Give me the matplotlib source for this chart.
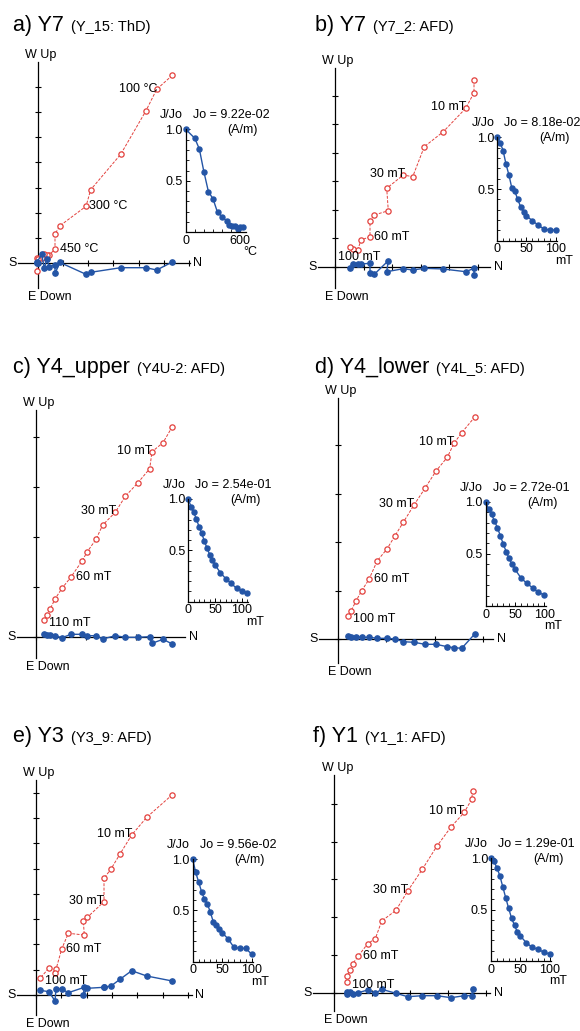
#!/usr/bin/env python
"""plot.py - six Zijderveld diagrams with demagnetisation insets"""
import matplotlib
matplotlib.use('Agg')
import matplotlib.pyplot as plt
from matplotlib.ticker import MultipleLocator

plt.rcParams['font.family'] = ['Liberation Sans', 'DejaVu Sans']

W, H = 580, 1031
RED = '#e3413d'
BLUE = '#2455a6'
FS = 9

# ---- Zijderveld data (components, arbitrary units) ----
a_north = [134.6, 119, 108.3, 83, 53, 48.3, 22.3, 17.3, 17.3, 11.6, 9, 6.6, 4, -1, 0.6, -1]
a_up = [188, 174, 152.6, 109, 73.6, 57, 37.6, 29.3, 14, 8.6, 8.6, 9.3, 5.6, 5.6, 4, -7.4]
a_west = [1.3, -6.7, -4.4, -4.4, -9, -11, 0.8, -10, -1.4, -3.4, 4, -5, 9, 0.6, 0, 1]

b_north = [139, 139, 130.7, 108.3, 89.3, 77.7, 68.3, 51.7, 53.3, 39.3, 35, 35, 26, 22.7, 18.3, 15]
b_up = [186.7, 174, 158.4, 135, 120, 90, 91.7, 78.4, 56, 51.7, 46, 30, 26.7, 16.7, 17.7, 20]
b_west = [-8.3, -1.6, -5, -2.3, -1.6, -3.3, -2, -5, 6, -7.6, -6.6, 3.4, 2.7, 2.7, 2.4, -1]

c_north = [136.6, 127.3, 116.3, 114, 102, 89.6, 79.6, 67, 60.3, 51.6, 46.3, 35.3, 26.3, 19.3, 14.3, 11.6, 8.6]
c_up = [210.6, 194.6, 185.6, 168.6, 154.3, 141, 125, 112.3, 98, 85.6, 76.3, 60.3, 49, 38.3, 28, 22.3, 17]
c_west = [-6.7, -2, -6, 0.6, 0, 0, 1.6, -1.7, 1.6, 1.6, 3, 3, -0.4, 1.6, 2.3, 2.3, 3]

d_north = [137.3, 124, 116.3, 109.6, 98.3, 87.3, 76.3, 65.6, 57.3, 49.3, 39.6, 31.3, 24, 18.3, 13.3, 10.6]
d_up = [222.6, 206.6, 196, 182, 168.3, 151, 134.3, 117, 103.6, 90.3, 78.6, 60, 48.6, 38.3, 28.3, 23.3]
d_west = [5.6, -9, -8.4, -7.4, -5, -5, -3, -2.4, 0.3, 1, 1, 2, 2, 2.6, 2.6, 3.6]

e_north = [136.3, 110.7, 95.7, 84, 75, 68, 68, 51.3, 47.3, 48.3, 32.3, 25.7, 20, 19, 13, 4]
e_up = [200.3, 177.7, 160, 141, 126, 116.7, 93.3, 77.7, 74, 60, 61.7, 46, 25.7, 22.3, 27, 16.7]
e_west = [14, 19, 24.3, 15.7, 9, 7.7, 7.7, 6.7, 0, 7.7, 2.3, 6, 6, -6, 3.3, 4.7]

f_north = [138.4, 137.4, 130, 116.7, 102.7, 88, 73.4, 61.7, 47.4, 41, 33.4, 24, 18.4, 16, 12.4, 12.4]
f_up = [202, 193.4, 180.4, 165.7, 146.7, 123.4, 101.7, 82.4, 71.7, 54, 49, 36.7, 29, 22.7, 16.7, 11]
f_west = [3.7, -3, -3, -5, -3, -3, -4, -0.6, 3.4, -0.6, 2.7, 0, -1.6, 1, 1, -1.6]

# ---- demagnetisation curves ----
a_steps = [0, 100, 150, 200, 250, 300, 350, 400, 450, 480, 510, 540, 570, 600, 630]
a_jjo = [1.0, 0.913, 0.809, 0.588, 0.394, 0.326, 0.194, 0.151, 0.110, 0.068, 0.064, 0.061, 0.029, 0.049, 0.049]

af_steps = [0, 5, 10, 15, 20, 25, 30, 35, 40, 45, 50, 60, 70, 80, 90, 100]
c_steps = [0, 5, 10, 15, 20, 25, 30, 35, 40, 45, 50, 60, 70, 80, 90, 100, 110]
b_jjo = [1.0, 0.948, 0.870, 0.739, 0.635, 0.507, 0.481, 0.400, 0.329, 0.278, 0.242, 0.193, 0.152, 0.113, 0.103, 0.103]
c_jjo = [1.0, 0.925, 0.870, 0.808, 0.730, 0.666, 0.591, 0.520, 0.458, 0.406, 0.357, 0.282, 0.224, 0.179, 0.130, 0.107, 0.082]
d_jjo = [1.0, 0.927, 0.879, 0.815, 0.751, 0.674, 0.594, 0.521, 0.457, 0.400, 0.352, 0.271, 0.218, 0.175, 0.131, 0.105]
e_jjo = [1.0, 0.870, 0.779, 0.682, 0.611, 0.562, 0.481, 0.389, 0.357, 0.315, 0.282, 0.224, 0.140, 0.130, 0.130, 0.075]
f_jjo = [1.0, 0.971, 0.908, 0.831, 0.723, 0.616, 0.513, 0.416, 0.348, 0.279, 0.243, 0.178, 0.133, 0.114, 0.085, 0.068]

titles = ['a) Y7', 'b) Y7', 'c) Y4_upper', 'd) Y4_lower', 'e) Y3', 'f) Y1']
subtitles = ['(Y_15: ThD)', '(Y7_2: AFD)', '(Y4U-2: AFD)', '(Y4L_5: AFD)', '(Y3_9: AFD)', '(Y1_1: AFD)']
jo_texts = ['Jo = 9.22e-02', 'Jo = 8.18e-02', 'Jo = 2.54e-01', 'Jo = 2.72e-01', 'Jo = 9.56e-02', 'Jo = 1.29e-01']
units = ['°C', 'mT', 'mT', 'mT', 'mT', 'mT']
a_labels = [(1, '100 °C'), (5, '300 °C'), (8, '450 °C')]
b_labels = [(2, '10 mT'), (6, '30 mT'), (11, '60 mT'), (15, '100 mT')]
c_labels = [(2, '10 mT'), (6, '30 mT'), (11, '60 mT'), (16, '110 mT')]
d_labels = [(2, '10 mT'), (6, '30 mT'), (11, '60 mT'), (15, '100 mT')]
e_labels = [(2, '10 mT'), (6, '30 mT'), (11, '60 mT'), (15, '100 mT')]
f_labels = [(2, '10 mT'), (6, '30 mT'), (11, '60 mT'), (15, '100 mT')]

# label placement: ha, dx, dy (pixels, dy positive = down), same order as labels
a_place = [('right', 1, 0), ('left', 3, 0), ('left', 5, 0)]
mt_place = [('right', 0.5, -1), ('right', 0.5, -1), ('left', 4.5, 0), ('left', 5, 3)]
b_place = [('right', 0.5, -1), ('right', 1.5, -1), ('left', 3.5, 0), ('left', -11.5, 10)]

# panel geometry in pixels: origin x, origin y, left, right, top, bottom, tick step
boxes = [(37.7, 263.3, 18, 190, 62, 288, 25.2),
         (335, 266.7, 318, 490, 68, 288, 28.5),
         (35.7, 637.3, 17, 185, 410, 658, 50),
         (337.7, 639.3, 319, 493, 398, 663, 48.5),
         (36, 995, 17, 192, 780, 1015, 25.3),
         (334.3, 992.7, 313, 490, 775, 1011, 37.8)]
# inset geometry: left spine x, y of 0, y of 1, xmax
insets = [(185.7, 232.3, 129.3, 660),
          (497.3, 240.7, 137.3, 103),
          (188.3, 601.7, 499, 112),
          (485.7, 606, 501.7, 102.5),
          (192.7, 961.7, 859, 102),
          (491, 961, 858.3, 102)]
title_pos = [(13.3, 30.7), (315, 30.7), (13.3, 373.3), (315, 373.3), (13.3, 741.7), (312.7, 741.7)]


def px_axes(fig, left, top, right, bottom):
    return fig.add_axes([left / W, 1 - bottom / H, (right - left) / W, (bottom - top) / H])


def ptext(fig, x, y, s, **kw):
    kw.setdefault('fontsize', FS)
    kw.setdefault('va', 'center')
    return fig.text(x / W, 1 - y / H, s, **kw)


def zijderveld(fig, box, north, up, west, labels, place):
    ox, oy, xl, xr, yt, yb, step = box
    ax = px_axes(fig, xl, yt, xr, yb)
    ax.set_xlim(xl - ox, xr - ox)
    ax.set_ylim(oy - yb, oy - yt)
    ax.patch.set_visible(False)
    ax.spines['top'].set_visible(False)
    ax.spines['right'].set_visible(False)
    ax.spines['left'].set_position(('data', 0))
    ax.spines['bottom'].set_position(('data', 0))
    for sp in ('left', 'bottom'):
        ax.spines[sp].set_linewidth(0.9)
    ax.xaxis.set_major_locator(MultipleLocator(step))
    ax.yaxis.set_major_locator(MultipleLocator(step))
    ax.tick_params(direction='inout', length=4, width=0.8,
                   labelbottom=False, labelleft=False)

    ax.plot(north, up, color=RED, lw=0.7, ls=(0, (3, 1.5)), marker='o', ms=3.8,
            mfc='white', mec=RED, mew=0.9, clip_on=False, zorder=3)
    ax.plot(north, west, color=BLUE, lw=1.0, marker='o', ms=3.8,
            mfc=BLUE, mec=BLUE, clip_on=False, zorder=3)

    for (idx, text), (ha, dx, dy) in zip(labels, place):
        ax.annotate(text, (north[idx], up[idx]), xytext=(dx * 0.72, -dy * 0.72),
                    textcoords='offset points', ha=ha, va='center', fontsize=FS,
                    zorder=4)

    ptext(fig, ox + 3, yt - 7, 'W Up', ha='center')
    ptext(fig, ox - 10, yb + 9, 'E Down', ha='left')
    ptext(fig, xl - 5, oy, 'S', ha='center')
    ptext(fig, xr + 8, oy, 'N', ha='center')


def decay(fig, inset, steps, jjo, jo, unit):
    left, y0, y1, xmax = inset
    ax = px_axes(fig, left, y1, left + 60, y0)
    ax.set_xlim(0, xmax)
    ax.set_ylim(0, 1)
    ax.patch.set_visible(False)
    ax.spines['top'].set_visible(False)
    ax.spines['right'].set_visible(False)
    for sp in ('left', 'bottom'):
        ax.spines[sp].set_linewidth(0.9)
    ax.plot(steps, jjo, color=BLUE, lw=1.0, marker='o', ms=3.6, clip_on=False)
    if unit == '°C':
        ax.set_xticks([0, 600])
        ax.xaxis.set_minor_locator(MultipleLocator(100))
    else:
        ax.set_xticks([0, 50, 100])
        ax.xaxis.set_minor_locator(MultipleLocator(10))
    ax.set_yticks([0.5, 1.0])
    ax.set_yticklabels(['0.5', '1.0'])
    ax.yaxis.set_minor_locator(MultipleLocator(0.1))
    ax.tick_params(which='major', direction='in', length=3, width=0.7,
                   labelsize=FS, pad=2)
    ax.tick_params(which='minor', direction='in', length=2, width=0.6)

    ptext(fig, left - 3, y1 - 14, 'J/Jo', ha='right')
    ptext(fig, left + 7, y1 - 14, jo, ha='left')
    ptext(fig, left + 42, y1 + 1, '(A/m)', ha='left')
    ptext(fig, left + 58, y0 + 20, unit, ha='left')


fig = plt.figure(figsize=(W / 100, H / 100), dpi=100)
renderer = fig.canvas.get_renderer()

panels = [(a_north, a_up, a_west, a_labels, a_place, a_steps, a_jjo),
          (b_north, b_up, b_west, b_labels, b_place, af_steps, b_jjo),
          (c_north, c_up, c_west, c_labels, mt_place, c_steps, c_jjo),
          (d_north, d_up, d_west, d_labels, mt_place, af_steps, d_jjo),
          (e_north, e_up, e_west, e_labels, mt_place, af_steps, e_jjo),
          (f_north, f_up, f_west, f_labels, mt_place, af_steps, f_jjo)]

for i, (north, up, west, labels, place, steps, jjo) in enumerate(panels):
    zijderveld(fig, boxes[i], north, up, west, labels, place)
    decay(fig, insets[i], steps, jjo, jo_texts[i], units[i])
    tx, ty = title_pos[i]
    t = ptext(fig, tx, ty, titles[i], ha='left', va='baseline', fontsize=15.5)
    bb = t.get_window_extent(renderer=renderer)
    ptext(fig, bb.x1 + 7, ty, subtitles[i], ha='left', va='baseline', fontsize=10.5)

fig.savefig('out.png', dpi=100)
plt.close()
